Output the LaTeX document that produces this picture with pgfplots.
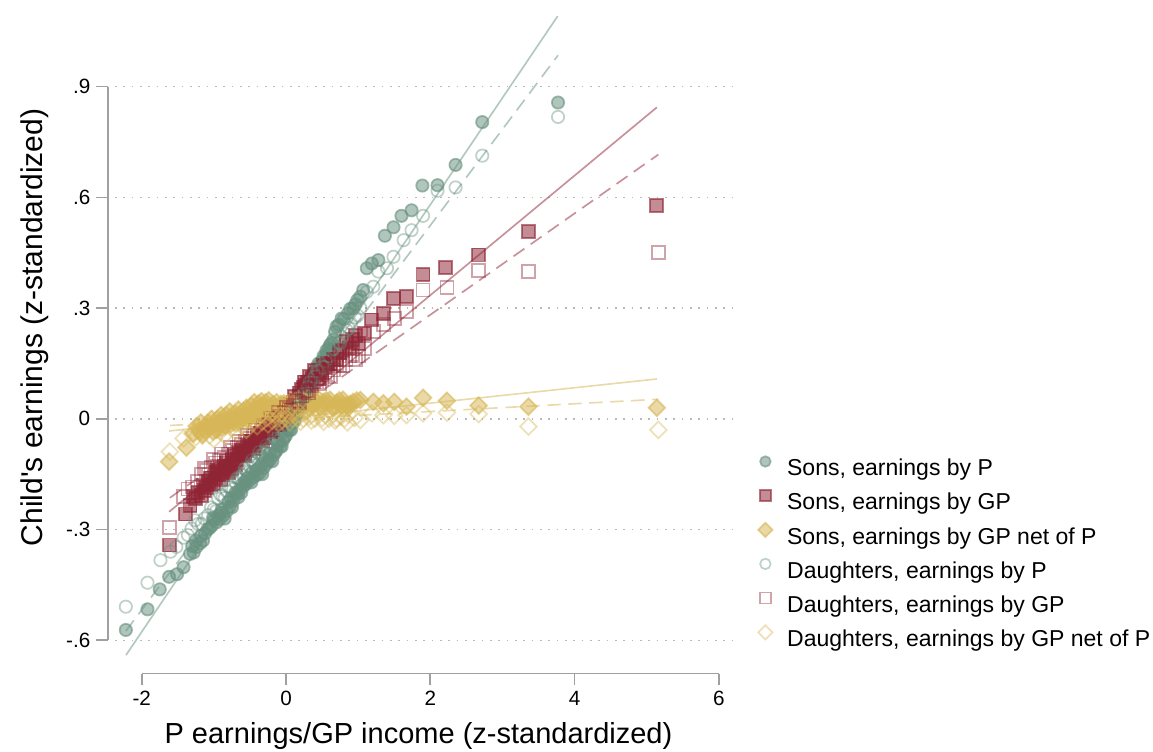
\documentclass[border=0pt]{standalone}
\usepackage{pgfplots}
\pgfplotsset{compat=1.18}
\usepackage{fontspec}
\setmainfont{Liberation Sans}[Ligatures=TeXOff]
\usetikzlibrary{plotmarks}

\definecolor{sage}{RGB}{104,145,128}
\definecolor{cranb}{RGB}{142,36,52}
\definecolor{sand}{RGB}{214,182,86}
\definecolor{axisgray}{RGB}{160,160,160}
\definecolor{gridgray}{RGB}{185,185,185}

% diamond standing on its point, equal width and height
\pgfdeclareplotmark{sqdiamond}{%
  \pgfpathmoveto{\pgfqpoint{0pt}{\pgfplotmarksize}}%
  \pgfpathlineto{\pgfqpoint{\pgfplotmarksize}{0pt}}%
  \pgfpathlineto{\pgfqpoint{0pt}{-\pgfplotmarksize}}%
  \pgfpathlineto{\pgfqpoint{-\pgfplotmarksize}{0pt}}%
  \pgfpathclose
  \pgfusepathqfillstroke}
\pgfdeclareplotmark{sqdiamondo}{%
  \pgfpathmoveto{\pgfqpoint{0pt}{\pgfplotmarksize}}%
  \pgfpathlineto{\pgfqpoint{\pgfplotmarksize}{0pt}}%
  \pgfpathlineto{\pgfqpoint{0pt}{-\pgfplotmarksize}}%
  \pgfpathlineto{\pgfqpoint{-\pgfplotmarksize}{0pt}}%
  \pgfpathclose
  \pgfusepathqstroke}

\pgfplotsset{
  filledmk/.style={only marks, mark options={draw=#1, fill=#1, draw opacity=0.62, fill opacity=0.52, line width=1.05pt}},
  openmk/.style={only marks, mark options={draw=#1, draw opacity=0.42, fill=none, line width=1.05pt}},
  fitline/.style={no marks, #1, draw opacity=0.5, line width=1pt},
}

\begin{document}
\begin{tikzpicture}
\path[use as bounding box] (0,0) rectangle (691.8pt,450.6pt);
\begin{axis}[
  at={(64.68pt,46.5pt)}, anchor=south west,
  scale only axis, width=376.2pt, height=396.4pt,
  xmin=-2.47, xmax=6.22, ymin=-0.69, ymax=1.1,
  clip=false,
  axis line style={draw=none},
  tick pos=left, tick align=outside,
  major tick length=7pt,
  every tick/.style={axisgray, line width=1pt},
  xtick={-2,0,2,4,6}, xticklabels={-2,0,2,4,6},
  ytick={-0.6,-0.3,0,0.3,0.6,0.9}, yticklabels={-.6,-.3,0,.3,.6,.9},
  tick label style={font=\fontsize{12.4}{14}\selectfont},
  xlabel={P earnings/GP income (z-standardized)},
  ylabel={Child's earnings (z-standardized)},
  xlabel style={at={(axis description cs:0.4955,-0.1052)}, anchor=base, font=\fontsize{17.4}{20}\selectfont},
  ylabel style={at={(axis description cs:-0.1038,0.5237)}, anchor=base, font=\fontsize{18}{20}\selectfont},
  legend style={at={(1.0375,0.331)}, anchor=north west, draw=none, fill=none,
    inner sep=0pt, outer sep=0pt, column sep=0pt, row sep=4.9pt,
    font=\fontsize{13.8}{16}\selectfont,
    nodes={inner sep=0pt, text height=10pt, text depth=3pt},
    /tikz/every odd column/.append style={column sep=8.8pt}},
  legend cell align=left,
  legend image code/.code={\path[draw=none, fill=none] (-4pt,1pt) rectangle (4pt,9pt); \draw[mark size=0.85*\pgfplotmarksize] plot coordinates {(0pt,5pt)};},
]
% dotted reference lines at the y ticks
\pgfplotsinvokeforeach{-0.6,-0.3,0,0.3,0.6,0.9}{
  \draw[gridgray, line width=0.9pt, dash pattern=on 0.9pt off 4.1pt] (axis cs:-2.37,#1) -- (axis cs:6.22,#1);
}
% axis lines over the tick range only
\draw[axisgray, line width=1pt] (axis cs:-2,-0.69) -- (axis cs:6,-0.69);
\draw[axisgray, line width=1pt] (axis cs:-2.47,-0.6) -- (axis cs:-2.47,0.9);

% Sons, earnings by P
\addplot[filledmk=sage, mark=*, mark size=3.7pt] coordinates {
(-2.22,-0.572) (-1.92,-0.516) (-1.75,-0.462) (-1.62,-0.428) (-1.51,-0.421)
(-1.42,-0.402) (-1.33,-0.366) (-1.28,-0.362) (-1.24,-0.347) (-1.19,-0.337)
(-1.12,-0.310) (-1.06,-0.296) (-1.03,-0.290) (-0.96,-0.280) (-0.92,-0.272)
(-0.87,-0.262) (-0.82,-0.250) (-0.78,-0.238) (-0.73,-0.222) (-0.68,-0.205)
(-0.64,-0.193) (-0.59,-0.183) (-0.55,-0.176) (-0.50,-0.166) (-0.45,-0.158)
(-0.40,-0.152) (-0.36,-0.146) (-0.31,-0.133) (-0.27,-0.122) (-0.22,-0.112)
(-0.17,-0.098) (-0.13,-0.086) (-0.08,-0.074) (-0.04,-0.058) (0.00,-0.045)
(0.05,-0.030) (0.09,-0.012) (0.13,0.010) (0.17,0.035) (0.22,0.060)
(0.25,0.076) (0.29,0.092) (0.33,0.106) (0.36,0.114) (0.40,0.125)
(0.43,0.132) (0.49,0.155) (0.54,0.168) (0.59,0.191) (0.63,0.205)
(0.68,0.236) (0.70,0.250) (0.77,0.272) (0.86,0.286) (0.93,0.299)
(0.99,0.322) (1.03,0.331) (1.07,0.349) (1.12,0.408) (1.19,0.421)
(1.28,0.430) (1.37,0.496) (1.49,0.519) (1.60,0.550) (1.74,0.565)
(1.89,0.632) (2.10,0.633) (2.35,0.688) (2.72,0.804) (3.77,0.857)
(-1.30,-0.345) (-1.15,-0.330) (-1.00,-0.275) (-0.90,-0.255) (-0.85,-0.270)
(-0.75,-0.240) (-0.70,-0.200) (-0.62,-0.200) (-0.57,-0.170) (-0.48,-0.172)
(-0.42,-0.140) (-0.33,-0.150) (-0.25,-0.115) (-0.19,-0.115) (-0.11,-0.070)
(-0.06,-0.075) (0.02,-0.030) (0.07,-0.030) (0.11,0.015) (0.15,0.012)
(0.20,0.055) (0.27,0.075) (0.31,0.105) (0.38,0.125) (0.45,0.150)
(0.52,0.170) (0.57,0.178) (0.61,0.200) (0.66,0.215) (0.73,0.255)
(0.80,0.270) (0.89,0.298) (0.96,0.310)
(-1.25,-0.330) (-1.18,-0.318) (-1.09,-0.300) (-1.01,-0.268) (-0.94,-0.262)
(-0.89,-0.245) (-0.80,-0.225) (-0.76,-0.215) (-0.66,-0.212) (-0.61,-0.178)
(-0.53,-0.160) (-0.47,-0.145) (-0.38,-0.135) (-0.34,-0.125) (-0.29,-0.110)
(-0.23,-0.095) (-0.15,-0.090) (-0.10,-0.062) (-0.02,-0.050) (0.03,-0.015)
(0.12,-0.005) (0.18,0.048) (0.23,0.070) (0.34,0.090) (0.42,0.140)
(0.47,0.145) (0.56,0.185)
};
\addlegendentry{Sons, earnings by P}

% Sons, earnings by GP
\addplot[filledmk=cranb, mark=square*, mark size=3.9pt] coordinates {
(-1.62,-0.342) (-1.39,-0.258) (-1.28,-0.210) (-1.17,-0.207) (-1.10,-0.186)
(-1.04,-0.178) (-0.98,-0.160) (-0.93,-0.150) (-0.88,-0.152) (-0.83,-0.140)
(-0.78,-0.128) (-0.73,-0.120) (-0.68,-0.110) (-0.64,-0.100) (-0.60,-0.094)
(-0.55,-0.085) (-0.51,-0.078) (-0.47,-0.070) (-0.42,-0.062) (-0.38,-0.056)
(-0.34,-0.048) (-0.29,-0.040) (-0.25,-0.032) (-0.20,-0.024) (-0.16,-0.015)
(-0.11,-0.008) (-0.07,0.000) (-0.02,0.010) (0.03,0.020) (0.08,0.030)
(0.13,0.045) (0.18,0.062) (0.24,0.085) (0.30,0.100) (0.36,0.110)
(0.42,0.120) (0.48,0.130) (0.55,0.140) (0.62,0.150) (0.70,0.160)
(0.78,0.185) (0.84,0.209) (0.92,0.215) (1.00,0.205) (1.09,0.232)
(1.19,0.268) (1.35,0.286) (1.49,0.326) (1.67,0.331) (1.90,0.392)
(2.21,0.411) (2.67,0.444) (3.36,0.507) (5.14,0.577)
(-1.33,-0.235) (-1.22,-0.200) (-1.13,-0.195) (-1.07,-0.170) (-1.00,-0.175)
(-0.95,-0.140) (-0.90,-0.165) (-0.85,-0.130) (-0.80,-0.145) (-0.75,-0.110)
(-0.70,-0.125) (-0.66,-0.092) (-0.58,-0.100) (-0.53,-0.072) (-0.45,-0.080)
(-0.40,-0.050) (-0.32,-0.060) (-0.27,-0.030) (-0.22,-0.035) (-0.14,-0.005)
(-0.09,-0.015) (0.00,0.020) (0.05,0.015) (0.10,0.045) (0.16,0.050)
(0.21,0.080) (0.27,0.090) (0.33,0.115) (0.45,0.110) (0.52,0.145)
(0.66,0.160) (0.74,0.180) (0.88,0.190) (0.96,0.225)
(-1.25,-0.215) (-1.15,-0.180) (-1.05,-0.160) (-0.97,-0.145) (-0.91,-0.135)
(-0.82,-0.120) (-0.76,-0.135) (-0.71,-0.100) (-0.62,-0.085) (-0.57,-0.095)
(-0.49,-0.062) (-0.43,-0.072) (-0.36,-0.040) (-0.30,-0.052) (-0.23,-0.015)
(-0.18,-0.030) (-0.12,0.005) (-0.04,0.000) (0.02,0.035) (0.06,0.040)
(0.12,0.060) (0.19,0.070) (0.26,0.100) (0.34,0.100) (0.40,0.130)
(0.50,0.125) (0.58,0.150)
};
\addlegendentry{Sons, earnings by GP}

% Sons, earnings by GP net of P
\addplot[filledmk=sand, mark=sqdiamond, mark size=5pt] coordinates {
(-1.62,-0.116) (-1.38,-0.078) (-1.28,-0.040) (-1.20,-0.035) (-1.12,-0.030)
(-1.05,-0.022) (-0.98,-0.015) (-0.92,-0.012) (-0.86,-0.008) (-0.80,-0.004)
(-0.74,0.000) (-0.68,0.004) (-0.62,0.006) (-0.56,0.010) (-0.50,0.014)
(-0.45,0.020) (-0.40,0.026) (-0.35,0.030) (-0.30,0.034) (-0.25,0.030)
(-0.20,0.028) (-0.15,0.030) (-0.10,0.026) (-0.05,0.024) (0.00,0.026)
(0.05,0.030) (0.10,0.034) (0.16,0.038) (0.22,0.040) (0.28,0.042)
(0.35,0.040) (0.43,0.042) (0.52,0.046) (0.60,0.040) (0.70,0.044)
(0.78,0.038) (0.84,0.037) (0.93,0.046) (1.03,0.051) (1.21,0.046)
(1.35,0.042) (1.50,0.046) (1.67,0.033) (1.90,0.057) (2.23,0.049)
(2.67,0.036) (3.36,0.033) (5.14,0.030)
(-1.24,-0.020) (-1.16,-0.045) (-1.08,-0.010) (-1.01,-0.035) (-0.95,0.000)
(-0.89,-0.025) (-0.83,0.010) (-0.77,-0.015) (-0.71,0.015) (-0.65,-0.008)
(-0.59,0.022) (-0.53,0.000) (-0.48,0.035) (-0.43,0.010) (-0.38,0.042)
(-0.33,0.018) (-0.28,0.045) (-0.22,0.020) (-0.18,0.040) (-0.12,0.015)
(-0.07,0.040) (-0.02,0.012) (0.03,0.042) (0.08,0.020) (0.13,0.048)
(0.19,0.028) (0.25,0.050) (0.32,0.030) (0.39,0.052) (0.47,0.032)
(0.56,0.050) (0.65,0.030) (0.74,0.050) (0.81,0.030) (0.89,0.040)
(0.98,0.050)
(-1.18,-0.010) (-1.10,-0.020) (-1.03,0.000) (-0.96,-0.030) (-0.90,0.010)
(-0.84,-0.018) (-0.78,0.020) (-0.72,-0.010) (-0.66,0.025) (-0.60,-0.002)
(-0.55,0.030) (-0.49,0.005) (-0.44,0.045) (-0.39,0.012) (-0.34,0.048)
(-0.29,0.020) (-0.24,0.050) (-0.19,0.018) (-0.13,0.045) (-0.08,0.010)
(-0.03,0.042) (0.02,0.018) (0.07,0.048) (0.12,0.025) (0.18,0.052)
(0.24,0.030) (0.30,0.055) (0.37,0.035) (0.44,0.055) (0.51,0.035)
(0.61,0.052) (0.69,0.034) (0.79,0.052) (0.87,0.032)
};
\addlegendentry{Sons, earnings by GP net of P}

% Daughters, earnings by P
\addplot[openmk=sage, mark=o, mark size=3.7pt] coordinates {
(-2.22,-0.509) (-1.92,-0.444) (-1.74,-0.383) (-1.60,-0.360) (-1.52,-0.347)
(-1.42,-0.322) (-1.31,-0.297) (-1.22,-0.285) (-1.13,-0.270) (-1.08,-0.261)
(-1.00,-0.245) (-0.94,-0.216) (-0.88,-0.210) (-0.82,-0.196) (-0.76,-0.186)
(-0.70,-0.172) (-0.65,-0.162) (-0.60,-0.152) (-0.55,-0.142) (-0.50,-0.130)
(-0.45,-0.120) (-0.40,-0.110) (-0.35,-0.100) (-0.30,-0.090) (-0.25,-0.080)
(-0.20,-0.068) (-0.15,-0.055) (-0.10,-0.042) (-0.05,-0.030) (0.00,-0.018)
(0.05,-0.004) (0.10,0.012) (0.15,0.030) (0.20,0.050) (0.25,0.068)
(0.30,0.085) (0.35,0.100) (0.40,0.114) (0.45,0.128) (0.50,0.142)
(0.55,0.156) (0.60,0.170) (0.66,0.190) (0.72,0.206) (0.78,0.222)
(0.84,0.240) (0.90,0.258) (0.96,0.275) (1.03,0.300) (1.12,0.344)
(1.21,0.358) (1.28,0.399) (1.40,0.408) (1.49,0.439) (1.63,0.484)
(1.74,0.511) (1.90,0.550) (2.10,0.618) (2.35,0.627) (2.72,0.713)
(3.77,0.818)
(-1.36,-0.315) (-1.26,-0.275) (-1.17,-0.285) (-1.04,-0.240) (-0.97,-0.250)
(-0.91,-0.205) (-0.85,-0.215) (-0.79,-0.185) (-0.73,-0.190) (-0.67,-0.160)
(-0.62,-0.165) (-0.57,-0.135) (-0.52,-0.145) (-0.47,-0.112) (-0.42,-0.125)
(-0.37,-0.090) (-0.32,-0.105) (-0.27,-0.072) (-0.22,-0.085) (-0.17,-0.048)
(-0.12,-0.060) (-0.07,-0.022) (-0.02,-0.035) (0.03,0.002) (0.08,-0.008)
(0.13,0.030) (0.18,0.030) (0.23,0.065) (0.28,0.062) (0.33,0.100)
(0.38,0.098) (0.43,0.130) (0.53,0.140) (0.63,0.185) (0.75,0.205)
(0.87,0.245) (0.99,0.280)
};
\addlegendentry{Daughters, earnings by P}

% Daughters, earnings by GP
\addplot[openmk=cranb, mark=square, mark size=3.9pt] coordinates {
(-1.61,-0.295) (-1.42,-0.211) (-1.30,-0.185) (-1.17,-0.150) (-1.10,-0.140)
(-1.04,-0.132) (-0.98,-0.120) (-0.92,-0.112) (-0.86,-0.104) (-0.80,-0.095)
(-0.74,-0.086) (-0.68,-0.078) (-0.62,-0.070) (-0.56,-0.062) (-0.50,-0.054)
(-0.45,-0.046) (-0.40,-0.040) (-0.34,-0.032) (-0.29,-0.024) (-0.24,-0.016)
(-0.18,-0.008) (-0.13,0.000) (-0.08,0.008) (-0.02,0.016) (0.04,0.026)
(0.10,0.036) (0.16,0.048) (0.22,0.062) (0.28,0.076) (0.35,0.090)
(0.42,0.100) (0.50,0.110) (0.58,0.120) (0.66,0.132) (0.74,0.145)
(0.83,0.160) (0.92,0.175) (1.00,0.170) (1.09,0.190) (1.21,0.236)
(1.35,0.255) (1.50,0.272) (1.67,0.290) (1.90,0.349) (2.23,0.356)
(2.67,0.401) (3.36,0.399) (5.16,0.450)
(-1.36,-0.190) (-1.23,-0.170) (-1.13,-0.135) (-1.07,-0.150) (-1.01,-0.110)
(-0.95,-0.130) (-0.89,-0.095) (-0.83,-0.115) (-0.77,-0.078) (-0.71,-0.095)
(-0.65,-0.062) (-0.59,-0.080) (-0.53,-0.045) (-0.48,-0.062) (-0.43,-0.030)
(-0.37,-0.045) (-0.32,-0.018) (-0.26,-0.030) (-0.21,0.002) (-0.16,-0.015)
(-0.10,0.018) (-0.05,0.005) (0.01,0.030) (0.07,0.022) (0.13,0.050)
(0.19,0.045) (0.25,0.075) (0.31,0.070) (0.38,0.100) (0.46,0.095)
(0.54,0.125) (0.62,0.115) (0.70,0.150) (0.79,0.145) (0.88,0.170)
(0.96,0.160)
};
\addlegendentry{Daughters, earnings by GP}

% Daughters, earnings by GP net of P
\addplot[openmk=sand, mark=sqdiamondo, mark size=5pt] coordinates {
(-1.61,-0.089) (-1.42,-0.053) (-1.30,-0.040) (-1.20,-0.030) (-1.10,-0.024)
(-1.02,-0.018) (-0.95,-0.014) (-0.88,-0.010) (-0.80,-0.006) (-0.72,-0.004)
(-0.65,0.000) (-0.58,0.004) (-0.50,0.006) (-0.43,0.008) (-0.36,0.010)
(-0.29,0.012) (-0.22,0.014) (-0.15,0.012) (-0.08,0.010) (-0.02,0.008)
(0.05,0.012) (0.12,0.016) (0.20,0.014) (0.28,0.018) (0.36,0.012)
(0.45,0.016) (0.55,0.010) (0.65,0.014) (0.76,0.006) (0.86,0.012)
(1.03,-0.003) (1.19,0.015) (1.35,0.010) (1.50,0.008) (1.67,0.010)
(1.90,0.015) (2.23,0.017) (2.67,0.013) (3.36,-0.021) (5.16,-0.030)
(-1.25,-0.050) (-1.15,-0.040) (-1.06,-0.045) (-0.98,-0.030) (-0.91,-0.035)
(-0.84,-0.020) (-0.76,-0.025) (-0.69,-0.012) (-0.62,-0.018) (-0.54,-0.005)
(-0.47,-0.012) (-0.40,0.000) (-0.33,-0.008) (-0.26,0.002) (-0.19,-0.005)
(-0.12,0.000) (-0.05,-0.004) (0.02,0.000) (0.09,0.000) (0.16,0.002)
(0.24,0.000) (0.32,0.005) (0.40,0.000) (0.50,0.002) (0.60,0.000)
(0.70,0.000) (0.81,0.000) (0.95,0.002)
(-1.00,-0.055) (-0.85,-0.045) (-0.70,-0.035) (-0.55,-0.030) (-0.40,-0.020)
(-0.25,-0.015) (-0.10,-0.012) (0.05,-0.010) (0.20,-0.008) (0.35,-0.005)
(0.52,-0.008) (0.68,-0.005) (0.85,-0.010)
};
\addlegendentry{Daughters, earnings by GP net of P}

% linear fits: solid for sons, dashed for daughters
\addplot[fitline=sage, forget plot] coordinates {(-2.217,-0.640) (3.765,1.091)};
\addplot[fitline=cranb, forget plot] coordinates {(-1.62,-0.252) (5.14,0.844)};
\addplot[fitline=sand, forget plot] coordinates {(-1.62,-0.033) (5.14,0.108)};
\addplot[fitline=sage, dash pattern=on 8pt off 4.6pt, forget plot] coordinates {(-2.22,-0.575) (3.77,0.985)};
\addplot[fitline=cranb, dash pattern=on 8pt off 4.6pt, forget plot] coordinates {(-1.61,-0.214) (5.16,0.716)};
\addplot[fitline=sand, dash pattern=on 8pt off 4.6pt, forget plot] coordinates {(-1.61,-0.018) (5.16,0.053)};
\end{axis}
\end{tikzpicture}
\end{document}
